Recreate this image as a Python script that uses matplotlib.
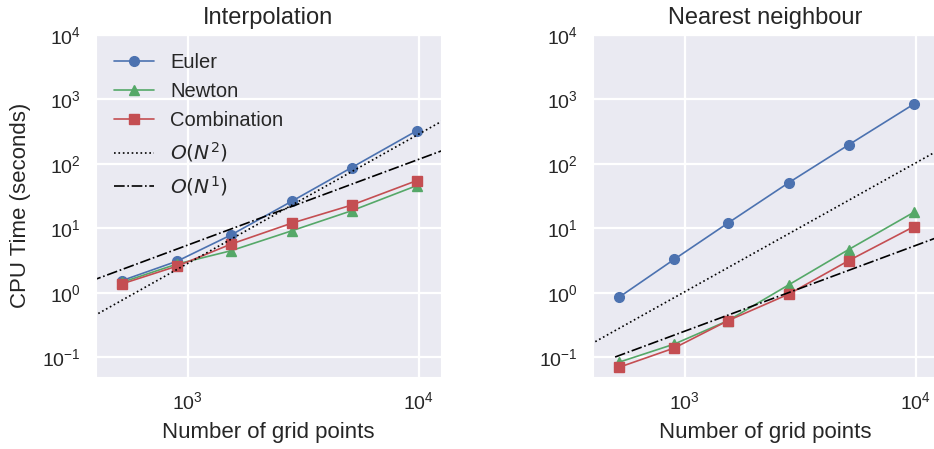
import matplotlib
matplotlib.use("Agg")
import matplotlib.pyplot as plt
import seaborn as sns

sns.set_style("darkgrid")
plt.rcParams['font.family'] = ['Liberation Sans', 'DejaVu Sans']
plt.rcParams['grid.linewidth'] = 1.6

# grid sizes
n_points = [520, 900, 1540, 2830, 5130, 9800]

# Interpolation timings
euler_interp = [1.55, 3.1, 7.9, 26.5, 88, 326]
newton_interp = [1.46, 2.8, 4.5, 9.2, 18.8, 46]
comb_interp = [1.38, 2.6, 5.7, 12.1, 23, 55]

# Nearest neighbour timings
euler_nn = [0.855, 3.3, 12.1, 51.5, 198, 843]
newton_nn = [0.084, 0.16, 0.37, 1.34, 4.7, 17.7]
comb_nn = [0.070, 0.139, 0.37, 0.96, 3.16, 10.6]

# reference slope lines (end points)
ref_x = [380, 13000]
ref_o2_interp = [0.41, 490]
ref_o1_interp = [1.52, 167]
ref_o2_nn = [0.15, 175]
ref_o1_nn_x = [500, 13000]
ref_o1_nn = [0.101, 7.7]

blue, green, red = "#4C72B0", "#55A868", "#C44E52"

fig, axes = plt.subplots(1, 2, figsize=(9.34, 4.49), dpi=100)
ax1, ax2 = axes

def draw(ax, e, n, c):
    ax.plot(n_points, e, '-o', color=blue, lw=1.2, ms=7, label='Euler')
    ax.plot(n_points, n, '-^', color=green, lw=1.2, ms=7, label='Newton')
    ax.plot(n_points, c, '-s', color=red, lw=1.2, ms=7, label='Combination')

draw(ax1, euler_interp, newton_interp, comb_interp)
ax1.plot(ref_x, ref_o2_interp, ':', color='k', lw=1.2, label=r'$O(N^2)$')
ax1.plot(ref_x, ref_o1_interp, '-.', color='k', lw=1.2, label=r'$O(N^1)$')

draw(ax2, euler_nn, newton_nn, comb_nn)
ax2.plot(ref_x, ref_o2_nn, ':', color='k', lw=1.2)
ax2.plot(ref_o1_nn_x, ref_o1_nn, '-.', color='k', lw=1.2)

for ax, title in zip(axes, ["Interpolation", "Nearest neighbour"]):
    ax.set_xscale('log')
    ax.set_yscale('log')
    ax.set_xlim(400, 12500)
    ax.set_ylim(0.05, 1e4)
    ax.set_title(title, fontsize=17, pad=8)
    ax.set_xlabel("Number of grid points", fontsize=16, labelpad=6)
    ax.tick_params(labelsize=14, pad=7)
    ax.minorticks_off()

ax1.set_ylabel("CPU Time (seconds)", fontsize=16, labelpad=8)
ax1.legend(loc='upper left', fontsize=14.5, frameon=False)

ax1.set_position([0.1025, 0.161, 0.3697, 0.761])
ax2.set_position([0.6346, 0.161, 0.3697, 0.761])

plt.savefig('out.png', dpi=100)
